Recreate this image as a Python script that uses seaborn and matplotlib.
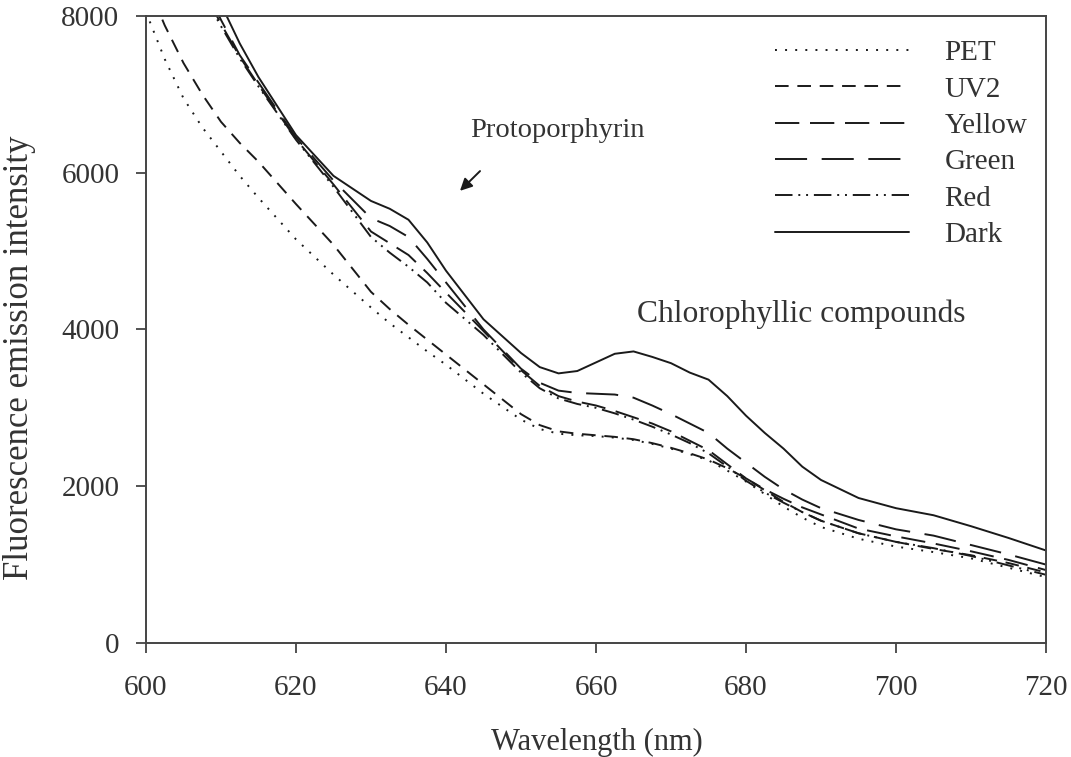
import numpy as np
import pandas as pd
import matplotlib
matplotlib.use("Agg")
import matplotlib.pyplot as plt
import seaborn as sns

wavelength = [600, 602.5, 605, 607.5, 610, 612.5, 615, 620, 625, 630, 632.5, 635, 637.5,
              640, 645, 650, 652.5, 655, 657.5, 660, 662.5, 665, 667.5, 670, 672.5, 675,
              677.5, 680, 682.5, 685, 687.5, 690, 695, 700, 705, 710, 715, 720]

pet = [8050, 7450, 6950, 6580, 6270, 5960, 5680, 5150, 4700, 4280, 4080, 3900, 3720,
       3550, 3180, 2850, 2730, 2670, 2650, 2640, 2620, 2590, 2540, 2480, 2410, 2330,
       2200, 2060, 1900, 1740, 1600, 1480, 1330, 1230, 1160, 1080, 960, 840]
uv2 = [8450, 7880, 7400, 7000, 6650, 6380, 6140, 5600, 5080, 4480, 4260, 4060, 3870,
       3680, 3300, 2920, 2780, 2700, 2670, 2650, 2630, 2600, 2550, 2490, 2420, 2340,
       2230, 2100, 1950, 1800, 1670, 1560, 1400, 1290, 1200, 1120, 1020, 900]
yellow = [9950, 9400, 8850, 8350, 7900, 7480, 7120, 6430, 5850, 5250, 5100, 4950, 4720,
          4470, 3980, 3480, 3280, 3150, 3080, 3030, 2960, 2880, 2800, 2700, 2580, 2460,
          2280, 2100, 1960, 1840, 1730, 1640, 1460, 1360, 1270, 1170, 1060, 930]
green = [10100, 9500, 8950, 8450, 7950, 7500, 7150, 6450, 5900, 5420, 5320, 5180, 4900,
         4600, 4000, 3500, 3320, 3220, 3190, 3180, 3170, 3130, 3030, 2920, 2800, 2680,
         2480, 2300, 2120, 1960, 1830, 1720, 1570, 1450, 1370, 1250, 1130, 1000]
red = [9850, 9300, 8800, 8300, 7870, 7460, 7100, 6420, 5820, 5180, 4980, 4800, 4600,
       4340, 3930, 3450, 3250, 3120, 3050, 3000, 2930, 2850, 2760, 2660, 2550, 2420,
       2250, 2070, 1920, 1790, 1670, 1560, 1400, 1290, 1210, 1110, 990, 870]
dark = [10400, 9800, 9250, 8700, 8150, 7650, 7220, 6480, 5960, 5640, 5540, 5400, 5110,
        4750, 4130, 3700, 3520, 3440, 3470, 3580, 3690, 3720, 3650, 3570, 3450, 3360,
        3150, 2900, 2680, 2480, 2250, 2080, 1850, 1720, 1630, 1490, 1340, 1180]

series_names = ["PET", "UV2", "Yellow", "Green", "Red", "Dark"]
series_values = [pet, uv2, yellow, green, red, dark]
dash_styles = {
    "PET": (0, (1, 4.2)),
    "UV2": (0, (7, 4.5)),
    "Yellow": (0, (12.5, 5.5)),
    "Green": (0, (16.5, 7.5)),
    "Red": (0, (9, 3, 1, 3, 1, 3)),
    "Dark": "-",
}

sns.set_style("ticks")
plt.rcParams["font.family"] = ["Liberation Serif", "DejaVu Serif"]

fig = plt.figure(figsize=(10.71, 7.57), dpi=100)
ax = fig.add_axes([0.1363, 0.1506, 0.8404, 0.8283])

line_color = "#1a1a1a"
text_color = "#333333"

for name, vals in zip(series_names, series_values):
    df = pd.DataFrame({"wavelength": wavelength, "intensity": vals})
    sns.lineplot(data=df, x="wavelength", y="intensity", ax=ax, color=line_color,
                 linewidth=1.4, linestyle=dash_styles[name], label=name)

ax.set_xlim(600, 720)
ax.set_ylim(0, 8000)
ax.set_xticks([600, 620, 640, 660, 680, 700, 720])
ax.set_yticks([0, 2000, 4000, 6000, 8000])
ax.tick_params(direction="out", length=7.2, width=1.3, colors="#444444",
               labelcolor=text_color, labelsize=21, pad=12)
ax.tick_params(axis="x", pad=16)
for sp in ax.spines.values():
    sp.set_visible(True)
    sp.set_color("#444444")
    sp.set_linewidth(1.4)

ax.set_xlabel("")
ax.set_ylabel("")
fig.text(597 / 1071, 1 - 742 / 757, "Wavelength (nm)", fontsize=22, color=text_color,
         ha="center", va="center")
fig.text(20 / 1071, 1 - 358 / 757, "Fluorescence emission intensity", fontsize=25,
         color=text_color, ha="center", va="center", rotation=90)

leg = ax.legend(loc="upper left", frameon=False, fontsize=21, handlelength=4.6,
                handletextpad=1.2, labelspacing=0.34, borderpad=0, borderaxespad=0,
                bbox_to_anchor=(0.699, 0.962))
for t in leg.get_texts():
    t.set_color(text_color)

ax.text(654.9, 6543, "Protoporphyrin", fontsize=20.5, color=text_color,
        va="center", ha="center")
ax.annotate("", xy=(641.6, 5744), xytext=(644.8, 6046),
            arrowprops=dict(arrowstyle="-|>", color=line_color, lw=1.4, mutation_scale=18))
ax.text(687.4, 4196, "Chlorophyllic compounds", fontsize=22.7, color=text_color,
        va="center", ha="center")

fig.savefig("out.png", dpi=100)
